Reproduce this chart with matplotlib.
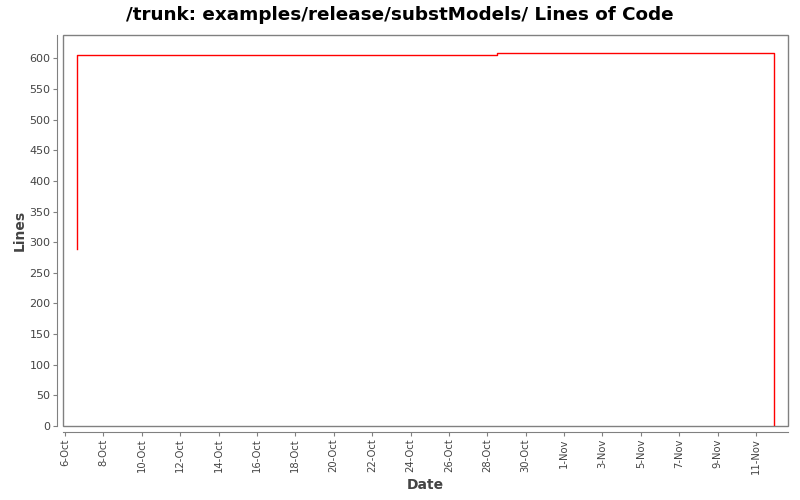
import datetime as dt
import matplotlib
matplotlib.use("Agg")
import matplotlib.pyplot as plt
from matplotlib.patches import Rectangle

# datos
fechas = [dt.datetime(2008, 10, 6, 15, 0), dt.datetime(2008, 10, 6, 15, 10),
          dt.datetime(2008, 10, 28, 12, 0), dt.datetime(2008, 11, 11, 22, 45)]
lineas = [288, 606, 609, 0]
y_ticks = list(range(0, 601, 50))
x_ticks = [dt.datetime(2008, 10, 6) + dt.timedelta(days=2 * i) for i in range(19)]
x_etiquetas = [f"{d.day}-{d.strftime('%b')}" for d in x_ticks]

fig = plt.figure(figsize=(8, 5), dpi=100)
ax = fig.add_axes([0.07875, 0.148, 0.90625, 0.782])

ax.step(fechas, lineas, where="post", color="red", linewidth=1)

ax.set_xlim(dt.datetime(2008, 10, 5, 21, 30), dt.datetime(2008, 11, 12, 16, 0))
ax.set_ylim(0, 638)
ax.set_yticks(y_ticks)
ax.set_xticks(x_ticks)
ax.set_xticklabels(x_etiquetas)

gris = "#808080"
for lado in ["top", "right"]:
    ax.spines[lado].set_visible(False)
for lado in ["left", "bottom"]:
    ax.spines[lado].set_position(("outward", 4))
    ax.spines[lado].set_color(gris)
ax.add_patch(Rectangle((0, 0), 1, 1, transform=ax.transAxes, fill=False,
                       edgecolor=gris, linewidth=1, clip_on=False))

ax.tick_params(axis="both", colors=gris, labelcolor="#444444", labelsize=8,
               length=3, width=0.8, pad=2)
ax.tick_params(axis="x", labelrotation=90, labelsize=7.2)

fig.text(0.5, 0.97, "/trunk: examples/release/substModels/ Lines of Code",
         ha="center", va="center", fontsize=13.2, fontweight="bold", color="black")
ax.set_xlabel("Date", fontsize=10, fontweight="bold", color="#444444", va="center")
ax.set_ylabel("Lines", fontsize=10, fontweight="bold", color="#444444", va="center")
ax.xaxis.set_label_coords(0.5, -0.151)
ax.yaxis.set_label_coords(-0.0593, 0.5)

fig.savefig("out.png", dpi=100)
